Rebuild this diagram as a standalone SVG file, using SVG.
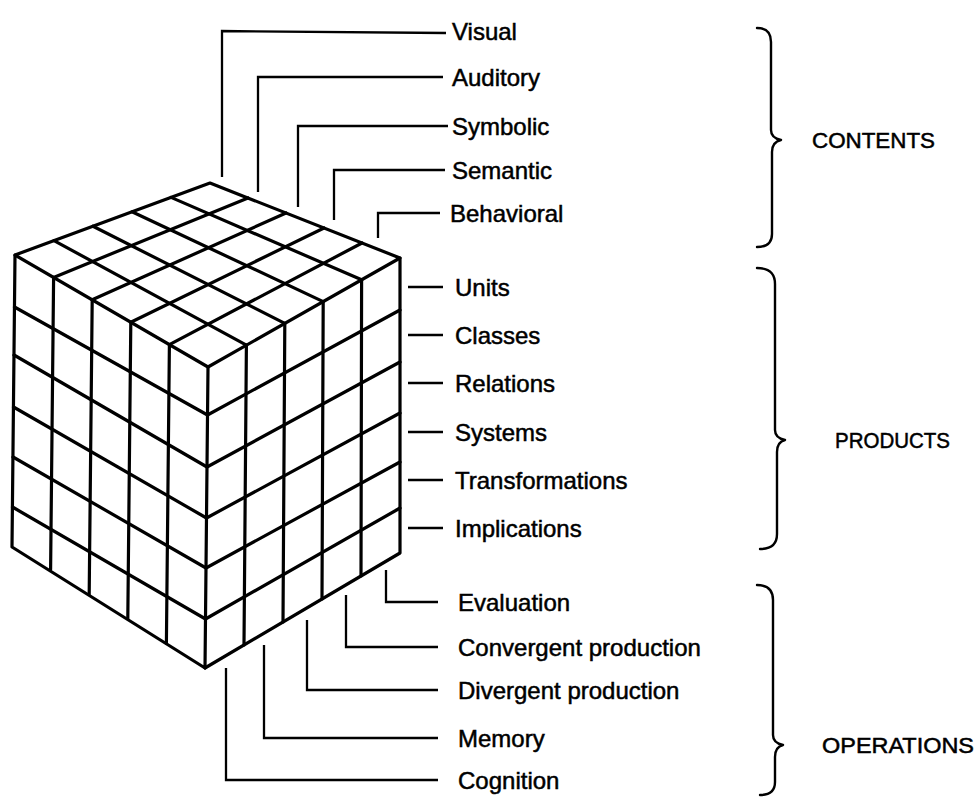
<svg xmlns="http://www.w3.org/2000/svg" width="978" height="798" viewBox="0 0 978 798">
<style>
.cube{fill:none;stroke:#000;stroke-width:3.2;stroke-linejoin:round;stroke-linecap:round}
.con{fill:none;stroke:#000;stroke-width:2.3;stroke-linejoin:miter}
.lbl{font-family:"Liberation Sans",Arial,sans-serif;font-size:24px;fill:#000;stroke:#000;stroke-width:0.5}
.cat{font-family:"Liberation Sans",Arial,sans-serif;font-size:22px;fill:#000;stroke:#000;stroke-width:0.5}
.brace{fill:none;stroke:#000;stroke-width:2.4;stroke-linejoin:round;stroke-linecap:round}
</style>
<rect width="978" height="798" fill="#fff"/>
<g id="cube">
  <g id="top-face">
    <path class="cube" d="M210,183 L400,258 L208,367 L15,255 Z"/>
    <path class="cube" d="M171,197.4 L361.6,279.8 M132,211.8 L323.2,301.6 M93,226.2 L284.8,323.4 M54,240.6 L246.4,345.2"/>
    <path class="cube" d="M248,198 L53.6,277.4 M286,213 L92.2,299.8 M324,228 L130.8,322.2 M362,243 L169.4,344.6"/>
  </g>
  <g id="left-face">
    <path class="cube" d="M15,255 L12,547 L205,668 L208,367"/>
    <path class="cube" d="M14.5,307 L207.5,415 M14,355 L207,467 M13.5,407 L206.5,518 M13,457 L206,568 M12.5,507 L205.5,619"/>
    <path class="cube" d="M53.6,277.4 L50.6,569.6 M92.2,299.8 L89.2,594.2 M130.8,322.2 L127.8,618.8 M169.4,344.6 L166.4,643.4"/>
  </g>
  <g id="right-face">
    <path class="cube" d="M400,258 L400,553 L205,668"/>
    <path class="cube" d="M400,310 L207.5,415 M400,362 L207,467 M400,413 L206.5,518 M400,462 L206,568 M400,508 L205.5,619"/>
    <path class="cube" d="M246.4,345.2 L244,645 M284.8,323.4 L283,622 M323.2,301.6 L322,599 M361.6,279.8 L361,576"/>
  </g>
</g>
<g id="connectors">
  <path class="con" d="M222,177 L222,31 L446,33"/>
  <path class="con" d="M258,192 L258,77 L443,77"/>
  <path class="con" d="M298,207 L298,126 L448,126"/>
  <path class="con" d="M334,220 L334,170 L445,170"/>
  <path class="con" d="M378,238 L378,213 L440,213"/>
  <path class="con" d="M408,287 L443,287 M408,335 L443,335 M408,383 L443,383 M408,432 L443,432 M408,480 L443,480 M408,528 L443,528"/>
  <path class="con" d="M386,570 L386,602 L438,602"/>
  <path class="con" d="M346,595 L346,647 L438,647"/>
  <path class="con" d="M307,620 L307,690 L438,690"/>
  <path class="con" d="M264,645 L264,738 L438,738"/>
  <path class="con" d="M226,668 L226,780 L438,780"/>
</g>
<g id="contents-labels">
  <g id="visual"><text class="lbl" x="452" y="40">Visual</text></g>
  <g id="auditory"><text class="lbl" x="452" y="86">Auditory</text></g>
  <g id="symbolic"><text class="lbl" x="452" y="135">Symbolic</text></g>
  <g id="semantic"><text class="lbl" x="452" y="179">Semantic</text></g>
  <g id="behavioral"><text class="lbl" x="450" y="222">Behavioral</text></g>
</g>
<g id="products-labels">
  <g id="units"><text class="lbl" x="455" y="296">Units</text></g>
  <g id="classes"><text class="lbl" x="455" y="344">Classes</text></g>
  <g id="relations"><text class="lbl" x="455" y="392">Relations</text></g>
  <g id="systems"><text class="lbl" x="455" y="441">Systems</text></g>
  <g id="transformations"><text class="lbl" x="455" y="489">Transformations</text></g>
  <g id="implications"><text class="lbl" x="455" y="537">Implications</text></g>
</g>
<g id="operations-labels">
  <g id="evaluation"><text class="lbl" x="458" y="611">Evaluation</text></g>
  <g id="convergent"><text class="lbl" x="458" y="656">Convergent production</text></g>
  <g id="divergent"><text class="lbl" x="458" y="699">Divergent production</text></g>
  <g id="memory"><text class="lbl" x="458" y="747">Memory</text></g>
  <g id="cognition"><text class="lbl" x="458" y="789">Cognition</text></g>
</g>
<g id="contents-group">
  <path class="brace" d="M757,28 Q771,28 771,42 L771,130 Q771,138 781,140 Q772,142 772,152 L772,234 Q772,247 757,247"/>
  <text class="cat" x="812" y="148" textLength="123" lengthAdjust="spacingAndGlyphs">CONTENTS</text>
</g>
<g id="products-group">
  <path class="brace" d="M757,268 Q775,268 775,284 L775,430 Q775,438 785,440 Q777,442 777,452 L777,534 Q777,549 760,549"/>
  <text class="cat" x="835" y="448" textLength="115" lengthAdjust="spacingAndGlyphs">PRODUCTS</text>
</g>
<g id="operations-group">
  <path class="brace" d="M757,585 Q773,585 773,600 L773,735 Q773,743 783,745 Q775,747 775,757 L775,782 Q775,795 760,795"/>
  <text class="cat" x="822" y="753" textLength="152" lengthAdjust="spacingAndGlyphs">OPERATIONS</text>
</g>
</svg>
